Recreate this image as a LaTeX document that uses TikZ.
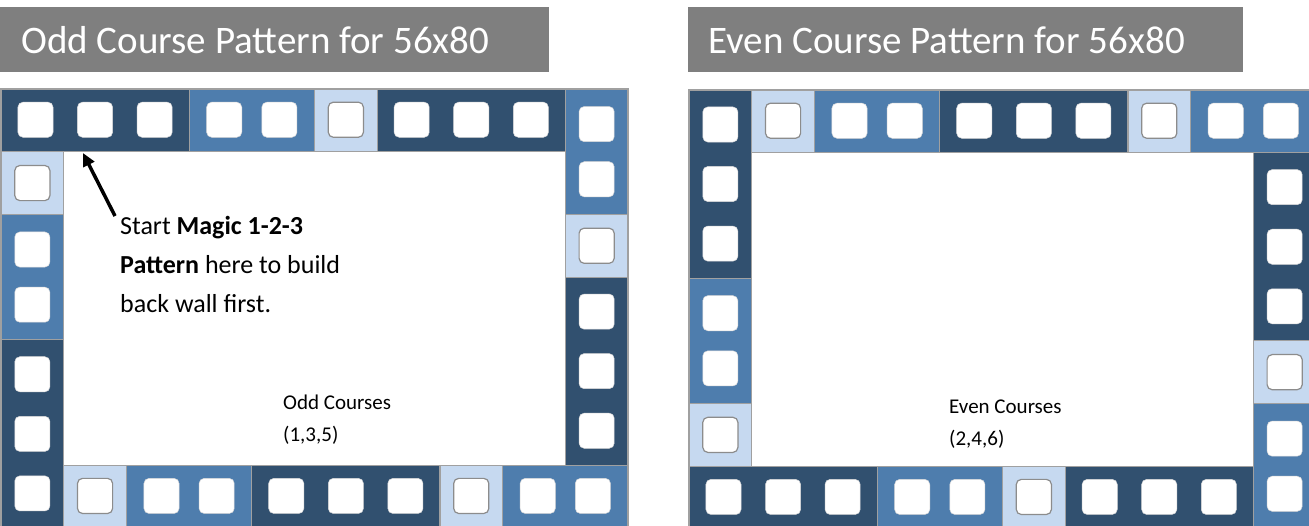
\documentclass[tikz,border=0pt]{standalone}
\usepackage{fontspec}
\setmainfont{Carlito}
\usetikzlibrary{arrows.meta}
\definecolor{brickD}{HTML}{31506F}
\definecolor{brickM}{HTML}{4E7DAD}
\definecolor{brickL}{HTML}{C6D9F0}
\definecolor{titlegray}{HTML}{7F7F7F}
\definecolor{edgegray}{HTML}{A0A0A0}
\definecolor{holegray}{HTML}{8C8C8C}
\tikzset{
  brickedge/.style={draw=edgegray, line width=1.2pt},
  kd/.style={fill=brickD},
  km/.style={fill=brickM},
  kl/.style={fill=brickL},
  holekd/.style={fill=white, draw=white!85!black, line width=0.5pt, rounded corners=5pt},
  holekm/.style={fill=white, draw=white!85!black, line width=0.5pt, rounded corners=5pt},
  holekl/.style={fill=white, draw=holegray, line width=1.2pt, rounded corners=5pt},
  titlebox/.style={fill=titlegray},
  titletext/.style={text=white, inner sep=0pt, anchor=base west, font=\fontsize{39}{46}\selectfont},
  annot/.style={inner sep=0pt, anchor=base west, font=\fontsize{26}{39}\selectfont},
  course/.style={inner sep=0pt, anchor=base west, font=\fontsize{21}{26}\selectfont},
  pointer/.style={line width=3.5pt, -{Triangle[length=13pt,width=12pt]}},
}
% #1 col, #2 row, #3 length, #4 h/v, #5 kind
\newcommand\mybrick[5]{%
  \ifcase#3\or\def\holelist{0.5}\or\def\holelist{0.56,1.44}\or\def\holelist{0.55,1.5,2.45}\fi
  \ifx h#4%
    \filldraw[brickedge,#5] (#1,#2) rectangle +(#3,1);
    \foreach \t in \holelist {\draw[hole#5] (#1+\t-0.28,#2+0.21) rectangle (#1+\t+0.28,#2+0.77);}
  \else
    \filldraw[brickedge,#5] (#1,#2) rectangle +(1,#3);
    \foreach \t in \holelist {\draw[hole#5] (#1+0.22,#2+\t-0.28) rectangle (#1+0.78,#2+\t+0.28);}
  \fi}
\begin{document}
\begin{tikzpicture}[x=1pt,y=-1pt]
\clip (0,0) rectangle (1309,525);
\fill[white] (0,0) rectangle (1309,525);
% titles
\fill[titlebox] (0,7) rectangle (549,72);
\node[titletext] (t1) at (21,53) {Odd Course Pattern for 56x80};
\fill[titlebox] (688,7) rectangle (1243,72);
\node[titletext] (t2) at (708,53) {Even Course Pattern for 56x80};
% odd panel
\begin{scope}[shift={(1,89)}, x=62.7pt, y=-62.7pt]
  \mybrick{0}{0}{3}{h}{kd}
  \mybrick{3}{0}{2}{h}{km}
  \mybrick{5}{0}{1}{h}{kl}
  \mybrick{6}{0}{3}{h}{kd}
  \mybrick{9}{0}{2}{v}{km}
  \mybrick{9}{2}{1}{v}{kl}
  \mybrick{9}{3}{3}{v}{kd}
  \mybrick{0}{1}{1}{v}{kl}
  \mybrick{0}{2}{2}{v}{km}
  \mybrick{0}{4}{3}{v}{kd}
  \mybrick{1}{6}{1}{h}{kl}
  \mybrick{2}{6}{2}{h}{km}
  \mybrick{4}{6}{3}{h}{kd}
  \mybrick{7}{6}{1}{h}{kl}
  \mybrick{8}{6}{2}{h}{km}
\end{scope}
% even panel
\begin{scope}[shift={(689,90)}, x=62.7pt, y=-62.7pt]
  \mybrick{0}{0}{3}{v}{kd}
  \mybrick{0}{3}{2}{v}{km}
  \mybrick{0}{5}{1}{v}{kl}
  \mybrick{1}{0}{1}{h}{kl}
  \mybrick{2}{0}{2}{h}{km}
  \mybrick{4}{0}{3}{h}{kd}
  \mybrick{7}{0}{1}{h}{kl}
  \mybrick{8}{0}{2}{h}{km}
  \mybrick{9}{1}{3}{v}{kd}
  \mybrick{9}{4}{1}{v}{kl}
  \mybrick{9}{5}{2}{v}{km}
  \mybrick{0}{6}{3}{h}{kd}
  \mybrick{3}{6}{2}{h}{km}
  \mybrick{5}{6}{1}{h}{kl}
  \mybrick{6}{6}{3}{h}{kd}
\end{scope}
% annotation
\node[annot] (ann1) at (120,234) {Start \textbf{Magic 1-2-3}};
\node[annot] (ann2) at (120,273) {\textbf{Pattern} here to build};
\node[annot] (ann3) at (120,312) {back wall first.};
\coordinate (tail) at (115,216);
\coordinate (tip) at (83,153);
\draw[pointer] (tail) -- (tip);
% course labels
\node[course] (odd1) at (283,409) {Odd Courses};
\node[course] (odd2) at (283,441) {(1,3,5)};
\node[course] (even1) at (949,413) {Even Courses};
\node[course] (even2) at (949,445) {(2,4,6)};
\end{tikzpicture}
\end{document}
